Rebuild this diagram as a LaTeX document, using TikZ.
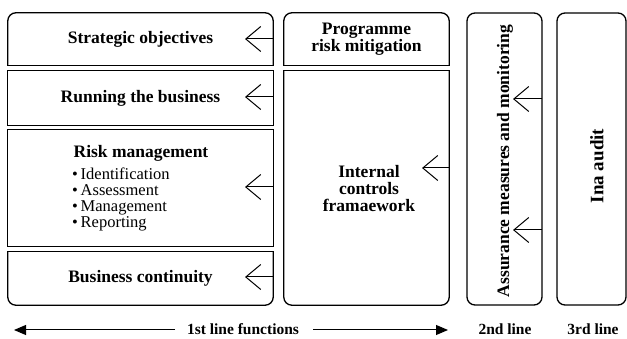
\documentclass[tikz,border=0pt]{standalone}
\usepackage{fontspec}
\setmainfont{Liberation Serif}
\usetikzlibrary{arrows.meta}
\begin{document}
\begin{tikzpicture}[x=1pt,y=-1pt,
  holder/.style={inner sep=0pt, minimum width=#1},
  lbl/.style={inner sep=0pt, align=center, font=\fontsize{17.5}{17}\selectfont\bfseries},
  lst/.style={inner sep=0pt, align=left, font=\fontsize{16.5}{16}\selectfont},
  foot/.style={inner sep=0pt, font=\fontsize{15.5}{15.5}\selectfont\bfseries},
  outline/.style={line width=1.3pt, line cap=rect, rounded corners=8pt},
  edgeline/.style={line width=1.3pt, line cap=rect},
  fullbox/.style={draw, line width=1.3pt, rounded corners=8pt, inner sep=0pt},
  barb/.style={line width=1pt, -{Straight Barb[length=15pt, width=25pt, line width=1pt]}},
  bigarrow/.style={line width=1pt, -{Triangle[length=12pt, width=10pt]}}
]
\useasboundingbox (0,0) rectangle (627,339);

% left column
\node[holder=265pt, minimum height=52pt, lbl] (so) at (140.5,39) {Strategic objectives};
\node[holder=265pt, minimum height=54pt, lbl] (rb) at (140.5,98) {Running the business};
\node[holder=265pt, minimum height=116pt] (rm) at (140.5,188) {};
\node[holder=265pt, minimum height=53pt, lbl] (bc) at (140.5,278.5) {Business continuity};

\node[lbl] (rmt) at (141,153) {Risk management};
\node[lst, anchor=west] (rml) at (72,199) {\textbullet\,Identification\\ \textbullet\,Assessment\\ \textbullet\,Management\\ \textbullet\,Reporting};

\draw[outline] (so.south west) -- (so.north west) -- (so.north east) -- (so.south east);
\draw[edgeline] (so.south west) -- (so.south east);
\draw[edgeline] (rb.north west) rectangle (rb.south east);
\draw[edgeline] (rm.north west) rectangle (rm.south east);
\draw[outline] (bc.north west) -- (bc.south west) -- (bc.south east) -- (bc.north east);
\draw[edgeline] (bc.north west) -- (bc.north east);

% middle column
\node[holder=165pt, minimum height=52pt, lbl] (prm) at (366.5,39) {Programme\\risk mitigation};
\node[holder=165pt, minimum height=234pt] (icf) at (366.5,188) {};
\node[lbl] (icft) at (369,189) {Internal\\controls\\framaework};
\draw[outline] (prm.south west) -- (prm.north west) -- (prm.north east) -- (prm.south east);
\draw[edgeline] (prm.south west) -- (prm.south east);
\draw[outline] (icf.north west) -- (icf.south west) -- (icf.south east) -- (icf.north east);
\draw[edgeline] (icf.north west) -- (icf.north east);

% 2nd and 3rd line
\node[fullbox, minimum width=75pt, minimum height=292pt] (ass) at (504.5,159) {};
\node[lbl, rotate=90] (asst) at (505,161) {Assurance measures and monitoring};
\node[fullbox, minimum width=69pt, minimum height=292pt] (ia) at (591.5,159) {};
\node[lbl, rotate=90, font=\fontsize{19}{19}\selectfont\bfseries] (iat) at (597,166) {Ina audit};

% arrows
\coordinate (soA) at (273,39);   \coordinate (soT) at (245,39);
\coordinate (rbA) at (273,97);   \coordinate (rbT) at (245,97);
\coordinate (rmA) at (273,187);  \coordinate (rmT) at (245,187);
\coordinate (bcA) at (273,277);  \coordinate (bcT) at (245,277);
\coordinate (icA) at (449,168);  \coordinate (icT) at (422,168);
\coordinate (asA) at (542,99);   \coordinate (asT) at (513,99);
\coordinate (asB) at (542,230);  \coordinate (asU) at (513,230);
\draw[barb] (soA) -- (soT);
\draw[barb] (rbA) -- (rbT);
\draw[barb] (rmA) -- (rmT);
\draw[barb] (bcA) -- (bcT);
\draw[barb] (icA) -- (icT);
\draw[barb] (asA) -- (asT);
\draw[barb] (asB) -- (asU);

% footer
\node[foot] (l1) at (243,329) {1st line functions};
\node[foot] (l2) at (505,329) {2nd line};
\node[foot] (l3) at (593,329) {3rd line};
\coordinate (fL) at (14,330);
\coordinate (fR) at (448,330);
\coordinate (fLs) at (175,330);
\coordinate (fRs) at (313,330);
\draw[bigarrow] (fLs) -- (fL);
\draw[bigarrow] (fRs) -- (fR);
\end{tikzpicture}
\end{document}
